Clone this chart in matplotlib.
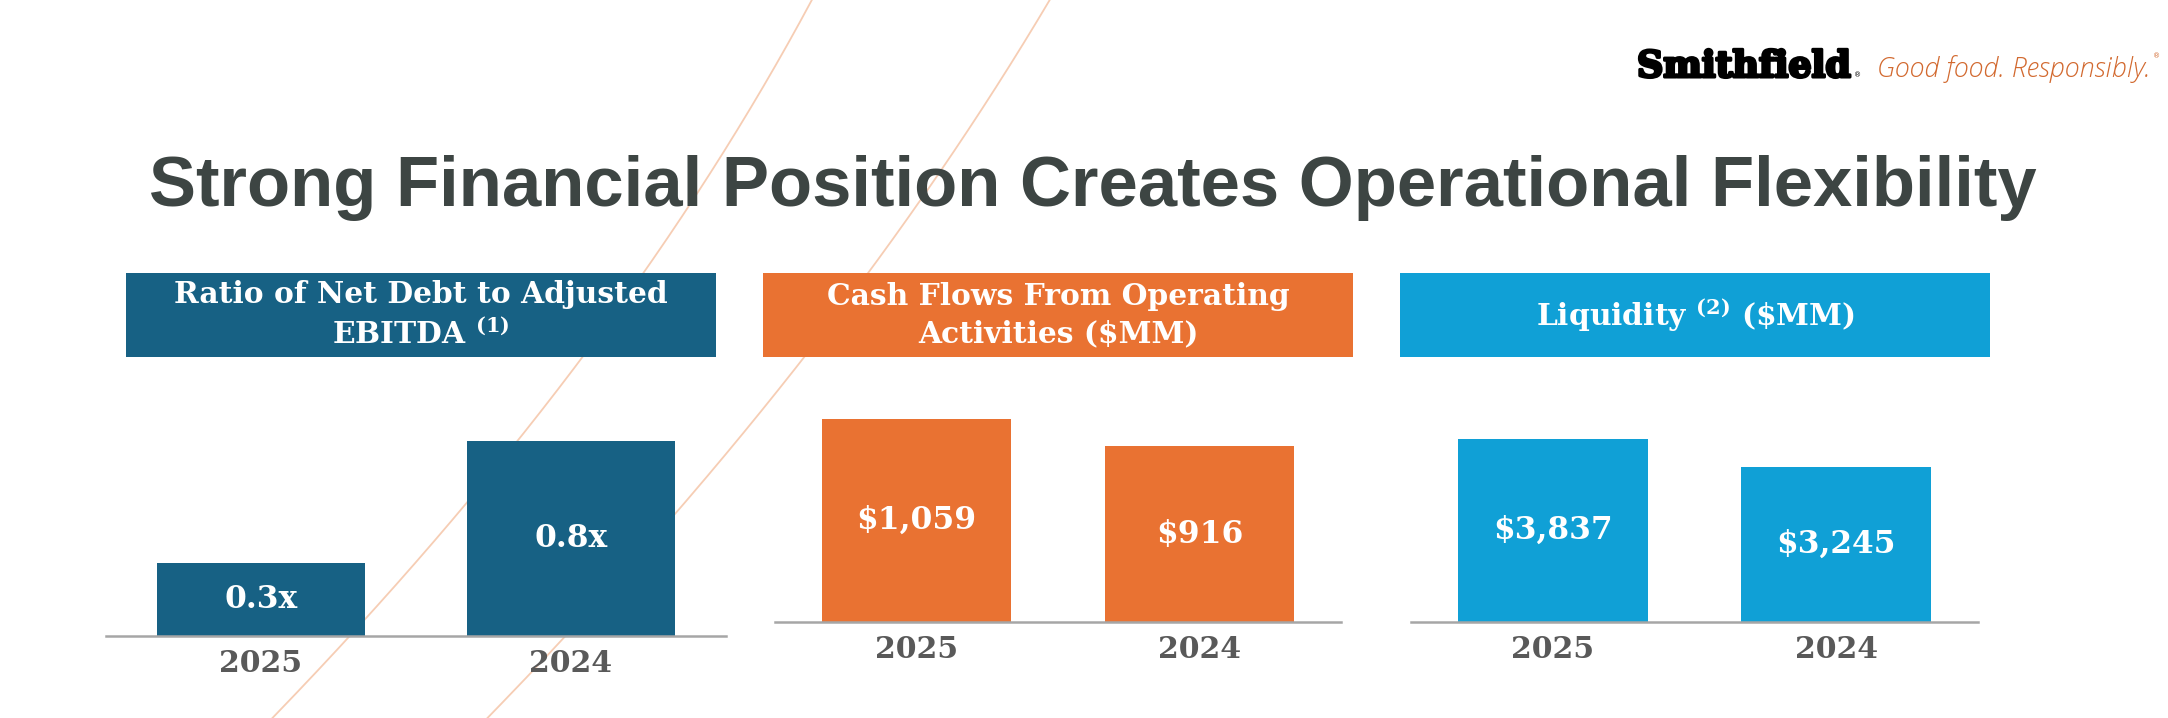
import matplotlib
matplotlib.use("Agg")
import matplotlib.pyplot as plt
from matplotlib import font_manager as fm
from matplotlib import patheffects as pe
from matplotlib.patches import Rectangle
import numpy as np

# ---------------- data ----------------
years = ["2025", "2024"]
ratio_values = [0.3, 0.8]
ratio_labels = ["0.3x", "0.8x"]
cash_values = [1059, 916]
cash_labels = ["$1,059", "$916"]
liquidity_values = [3837, 3245]
liquidity_labels = ["$3,837", "$3,245"]
panel_titles = ["Ratio of Net Debt to Adjusted\nEBITDA $^{(1)}$",
                "Cash Flows From Operating\nActivities ($MM)",
                r"Liquidity $^{(2)}$ (\$MM)"]
main_title = "Strong Financial Position Creates Operational Flexibility"
brand = "Smithfield"
tagline = "Good food. Responsibly."

# ---------------- style ----------------
NAVY = "#176184"
ORANGE = "#E97232"
BLUE = "#10A0D6"
TITLE_C = "#3D4543"
YEAR_C = "#595959"
AXIS_C = "#A6A6A6"
TAG_C = "#D2692F"
CURVE_C = "#F6CDB4"

avail = {f.name for f in fm.fontManager.ttflist}
SERIF = "DejaVu Serif"
SANS = "Liberation Sans" if "Liberation Sans" in avail else "DejaVu Sans"
TAGF = "Liberation Sans Narrow" if "Liberation Sans Narrow" in avail else (
    "Open Sans" if "Open Sans" in avail else "DejaVu Sans")

plt.rcParams["mathtext.fontset"] = "custom"
plt.rcParams["mathtext.rm"] = "DejaVu Serif:bold"
plt.rcParams["mathtext.it"] = "DejaVu Serif:bold"
plt.rcParams["mathtext.bf"] = "DejaVu Serif:bold"
plt.rcParams["mathtext.default"] = "rm"

W, H, DPI = 2168, 718, 100
fig = plt.figure(figsize=(W / DPI, H / DPI), dpi=DPI)
fig.patch.set_facecolor("white")
renderer = fig.canvas.get_renderer()

def fit(t, target):
    w = t.get_window_extent(renderer).width
    t.set_fontsize(t.get_fontsize() * target / w)

# background / overlay axes in pixel coordinates
bg = fig.add_axes([0, 0, 1, 1], zorder=0)
bg.set_xlim(0, W)
bg.set_ylim(H, 0)
bg.axis("off")

# decorative curves
curves = [
    ([0, 273, 360, 558, 637, 700, 718], [812, 643, 580, 420, 350, 288, 273]),
    ([0, 273, 360, 513, 718], [1050, 867, 802, 677, 487]),
]
for ys, xs in curves:
    c = np.polyfit(ys, xs, 2)
    yy = np.linspace(0, H, 200)
    bg.plot(np.polyval(c, yy), yy, color=CURVE_C, lw=1.3, zorder=1)

# title
tt = bg.text(1093, 206, main_title, ha="center", va="baseline", color=TITLE_C,
             fontfamily=SANS, fontweight="bold", fontsize=50)
fit(tt, 1889)

# logo
st = bg.text(1637, 77, brand, ha="left", va="baseline", color="black",
             fontfamily=SERIF, fontweight="heavy", fontsize=28,
             path_effects=[pe.withStroke(linewidth=2.2, foreground="black")])
fit(st, 214)
bb = st.get_window_extent(renderer)
bg.text(bb.x1 + 3, 77, "®", ha="left", va="baseline", color="black",
        fontfamily="DejaVu Sans", fontsize=5)
tg = bg.text(1877, 77, tagline, ha="left", va="baseline", color=TAG_C,
             fontfamily=TAGF, fontstyle="italic", fontweight="light", fontsize=24)
fit(tg, 274)
bb = tg.get_window_extent(renderer)
bg.text(bb.x1 + 2, 58, "®", ha="left", va="baseline", color=TAG_C,
        fontfamily="DejaVu Sans", fontsize=5)

# header boxes
boxes = [(126, 716, NAVY), (763, 1353, ORANGE), (1400, 1990, BLUE)]
heads = []
for (x0, x1, col), title in zip(boxes, panel_titles):
    bg.add_patch(Rectangle((x0, 273), x1 - x0, 84, facecolor=col,
                           edgecolor="none", zorder=2))
    h = bg.text((x0 + x1) / 2, 315, title, ha="center", va="center",
                multialignment="center", color="white", fontfamily=SERIF,
                fontweight="bold", fontsize=20, linespacing=1.35, zorder=3)
    heads.append(h)
probe = bg.text(0, 0, "Ratio of Net Debt to Adjusted", fontfamily=SERIF,
                fontweight="bold", fontsize=20)
pw = probe.get_window_extent(renderer).width
hs = 20 * 494 / pw
probe.remove()
for h in heads:
    h.set_fontsize(hs)

# bar panels
panels = [
    ((106, 726, 380, 636), ratio_values, ratio_labels, NAVY, 1.049),
    ((775, 1341, 380, 622), cash_values, cash_labels, ORANGE, 1262),
    ((1411, 1978, 380, 622), liquidity_values, liquidity_labels, BLUE, 5063),
]
for (x0, x1, y0, y1), vals, labs, col, ymax in panels:
    ax = fig.add_axes([x0 / W, 1 - y1 / H, (x1 - x0) / W, (y1 - y0) / H], zorder=2)
    ax.set_facecolor("none")
    xs = np.arange(len(years))
    ax.bar(xs, vals, width=0.67, color=col, zorder=2)
    ax.set_xlim(-0.5, 1.5)
    ax.set_ylim(0, ymax)
    for s in ("top", "left", "right"):
        ax.spines[s].set_visible(False)
    ax.spines["bottom"].set_color(AXIS_C)
    ax.spines["bottom"].set_linewidth(1.8)
    ax.spines["bottom"].set_zorder(3)
    ax.set_yticks([])
    ax.set_xticks(xs, years)
    ax.tick_params(axis="x", length=0, pad=28 * 72 / DPI)
    for lbl in ax.get_xticklabels():
        lbl.set_fontfamily(SERIF)
        lbl.set_fontweight("bold")
        lbl.set_fontsize(21.5)
        lbl.set_color(YEAR_C)
        lbl.set_va("center")
    for x, v, lab in zip(xs, vals, labs):
        ax.text(x, v / 2, lab, ha="center", va="center", color="white",
                fontfamily=SERIF, fontweight="bold", fontsize=22.5, zorder=4)

fig.savefig("out.png", dpi=DPI, facecolor="white")
